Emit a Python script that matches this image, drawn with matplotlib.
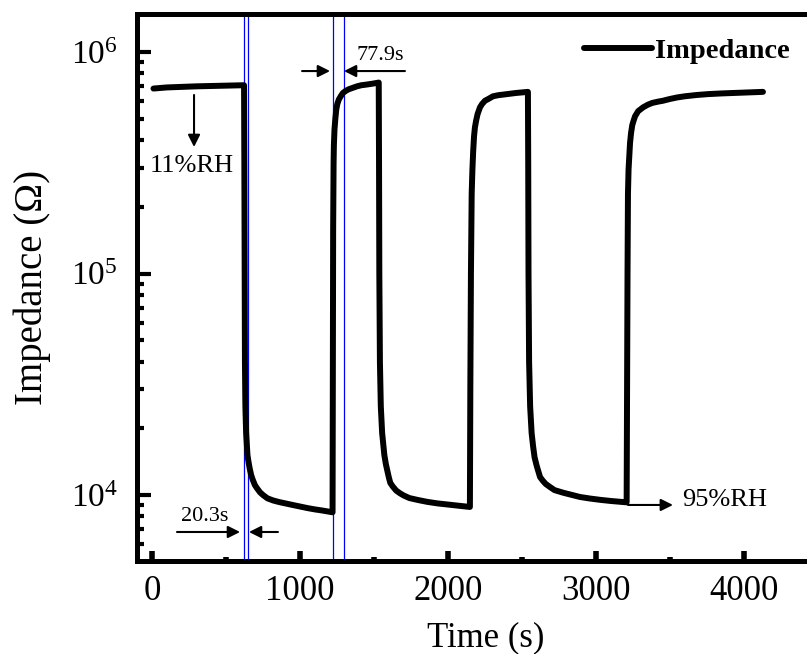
import numpy as np
import matplotlib
matplotlib.use("Agg")
import matplotlib.pyplot as plt
from matplotlib.ticker import LogLocator, LogFormatterMathtext, MultipleLocator

plt.rcParams['font.family'] = ['Liberation Serif', 'DejaVu Serif']
plt.rcParams['mathtext.fontset'] = 'custom'
plt.rcParams['mathtext.rm'] = 'Liberation Serif'
plt.rcParams['mathtext.it'] = 'Liberation Serif:italic'

# time (s) and log10 of impedance (ohm)
time = [10, 100, 300, 500, 622, 624, 626, 628, 631, 636, 645, 652, 660, 670, 680, 695, 710, 730, 750, 780,
        820, 860, 900, 950, 1000, 1050, 1100, 1150, 1218,
        1220, 1222, 1224, 1227, 1229, 1233, 1239, 1245, 1252, 1262, 1275, 1290, 1310, 1330, 1355, 1385,
        1415, 1450, 1490, 1530,
        1532, 1534, 1536, 1540, 1546, 1555, 1570, 1580, 1590, 1600, 1610, 1625, 1650, 1675, 1700, 1740,
        1800, 1860, 1930, 2050, 2145,
        2148, 2151, 2155, 2160, 2165, 2170, 2176, 2182, 2190, 2200, 2208, 2216, 2230, 2250, 2270, 2304,
        2340, 2400, 2460, 2535,
        2540, 2542, 2544, 2548, 2555, 2565, 2575, 2585, 2600, 2622, 2640, 2660, 2689, 2720, 2780, 2840,
        2892, 2960, 3030, 3100, 3182, 3205,
        3207, 3210, 3213, 3216, 3220, 3230, 3237, 3245, 3254, 3264, 3285, 3318, 3350, 3380, 3420, 3453,
        3500, 3550, 3600, 3682, 3760, 3850, 4000, 4128]
log_z = [5.835, 5.840, 5.845, 5.848, 5.850, 5.5, 5.0, 4.6, 4.4, 4.28, 4.18, 4.15, 4.12, 4.09, 4.07, 4.045, 4.03, 4.012, 4.0, 3.985,
         3.975, 3.968, 3.962, 3.955, 3.948, 3.941, 3.935, 3.93, 3.922,
         3.922, 4.5, 5.2, 5.5, 5.58, 5.65, 5.70, 5.74, 5.765, 5.785, 5.80, 5.815, 5.825, 5.832, 5.838, 5.845,
         5.85, 5.853, 5.857, 5.862,
         5.862, 5.5, 5.0, 4.6, 4.4, 4.28, 4.18, 4.14, 4.11, 4.08, 4.055, 4.04, 4.02, 4.008, 3.998, 3.986,
         3.977, 3.969, 3.962, 3.953, 3.946,
         3.946, 4.5, 5.0, 5.36, 5.47, 5.55, 5.62, 5.66, 5.69, 5.72, 5.735, 5.75, 5.765, 5.78, 5.787, 5.80,
         5.805, 5.81, 5.815, 5.82,
         5.82, 5.5, 5.0, 4.6, 4.4, 4.28, 4.22, 4.17, 4.13, 4.081, 4.065, 4.05, 4.036, 4.022, 4.01, 4.0,
         3.991, 3.984, 3.978, 3.973, 3.968, 3.967,
         3.967, 4.5, 5.0, 5.36, 5.47, 5.59, 5.635, 5.67, 5.69, 5.71, 5.733, 5.75, 5.762, 5.77, 5.776, 5.78,
         5.788, 5.795, 5.80, 5.806, 5.81, 5.813, 5.817, 5.82]

# blue guide lines (response / recovery windows)
guide_t = [619, 650, 1220, 1297]

impedance = 10 ** np.array(log_z)

fig = plt.figure(figsize=(8.07, 6.54), dpi=100)
W, H = 807.0, 654.0
ax = fig.add_axes([137 / W, 1 - 561 / H, (830 - 137) / W, (561 - 14) / H])

for g in guide_t:
    ax.axvline(g, color='blue', lw=0.9, zorder=1)

ax.plot(time, impedance, color='k', lw=4.3, solid_joinstyle='round', solid_capstyle='round',
        label='Impedance', zorder=3)

ax.set_yscale('log')
ax.set_xlim((137 - 152) / 0.148, (830 - 152) / 0.148)
ax.set_ylim(10 ** (4 - (561 - 495) / 221.5), 10 ** (6 + (52 - 14) / 221.5))

ax.xaxis.set_major_locator(MultipleLocator(1000))
ax.xaxis.set_minor_locator(MultipleLocator(500))
ax.yaxis.set_major_locator(LogLocator(base=10))
ax.yaxis.set_minor_locator(LogLocator(base=10, subs=np.arange(2, 10)))
ax.yaxis.set_major_formatter(LogFormatterMathtext())
ax.yaxis.set_minor_formatter(plt.NullFormatter())

for s in ax.spines.values():
    s.set_linewidth(3.6)
ax.tick_params(axis='x', which='major', direction='in', length=7, width=4, labelsize=25, pad=10)
ax.tick_params(axis='x', which='minor', direction='in', length=3, width=4)
ax.tick_params(axis='y', which='major', direction='in', length=10, width=3, labelsize=24, pad=14)
ax.tick_params(axis='y', which='minor', direction='in', length=5, width=3)

ax.set_xlabel('Time (s)', fontsize=25)
ax.set_ylabel('Impedance (\u03a9)', fontsize=28, labelpad=14)
ax.xaxis.set_label_coords((486 - 137) / (830 - 137), -0.11)

arw = dict(arrowstyle='-|>', color='k', lw=1.5, mutation_scale=18, shrinkA=0, shrinkB=0)
ax.annotate('', xy=(595, 10 ** 3.833), xytext=(169, 10 ** 3.833), arrowprops=arw)
ax.annotate('', xy=(655, 10 ** 3.833), xytext=(851, 10 ** 3.833), arrowprops=arw)
ax.text(358, 10 ** 3.905, '20.3s', fontsize=16, ha='center', va='center')

ax.annotate('', xy=(1203, 10 ** 5.914), xytext=(1014, 10 ** 5.914), arrowprops=arw)
ax.annotate('', xy=(1297, 10 ** 5.914), xytext=(1709, 10 ** 5.914), arrowprops=arw)
ax.text(1541, 10 ** 5.985, '77.9s', fontsize=16, ha='center', va='center')

ax.annotate('', xy=(284, 10 ** 5.571), xytext=(284, 10 ** 5.806), arrowprops=arw)
ax.text(270, 10 ** 5.485, '11%RH', fontsize=19, ha='center', va='center')

ax.annotate('', xy=(3520, 10 ** 3.955), xytext=(3216, 10 ** 3.955), arrowprops=arw)
ax.text(3581, 10 ** 3.977, '95%RH', fontsize=19, ha='left', va='center')

ax.legend(loc='upper right', bbox_to_anchor=(801 / W, 1 - 27 / H), bbox_transform=fig.transFigure,
          frameon=False, prop={'weight': 'bold', 'size': 20.5}, handlelength=2.4, handletextpad=0.1,
          borderaxespad=0)

fig.savefig('out.png', dpi=100)
